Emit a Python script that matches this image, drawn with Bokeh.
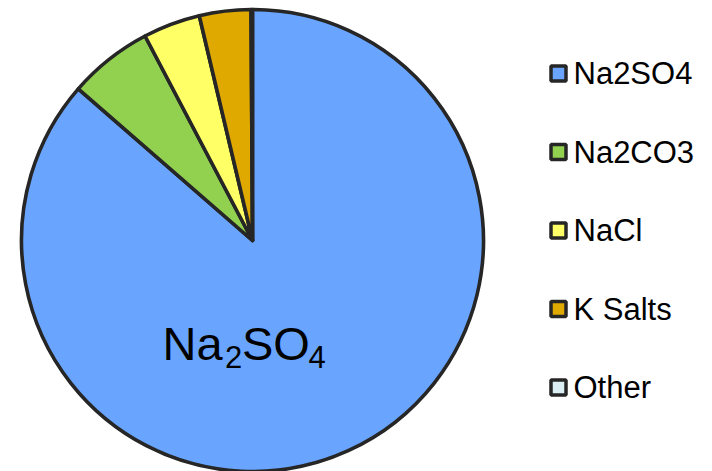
import numpy as np
from bokeh.plotting import figure
from bokeh.models import Range1d, ColumnDataSource
from bokeh.embed import file_html
from bokeh.resources import INLINE
from bokeh.core.properties import value

# ---- data ----
categories = ["Na2SO4", "Na2CO3", "NaCl", "K Salts", "Other"]
shares = [86.4, 5.9, 4.0, 3.6, 0.1]
colors = ["#69A5FF", "#92D050", "#FFFF66", "#DFA900", "#DAEEF3"]

W, H = 712, 471
FONT = "Liberation Sans"
EDGE = "#262626"

p = figure(width=W, height=H, x_range=Range1d(0, W), y_range=Range1d(0, H),
           output_backend="svg", toolbar_location=None, min_border=0)
p.axis.visible = False
p.grid.visible = False
p.outline_line_color = None
p.background_fill_color = "white"
p.border_fill_color = "white"

# pie: starts at 12 o'clock, runs clockwise
vals = np.array(shares, dtype=float)
frac = vals / vals.sum()
cum = np.concatenate([[0.0], np.cumsum(frac)])
start = np.pi / 2 - 2 * np.pi * cum[:-1]
end = np.pi / 2 - 2 * np.pi * cum[1:]
cx, cy, r = 252, H - 240, 231
src = ColumnDataSource(dict(start=start, end=end, color=colors, cat=categories))
p.wedge(x=cx, y=cy, radius=r, start_angle="start", end_angle="end",
        direction="clock", fill_color="color", line_color=EDGE, line_width=3.6,
        line_join="round", source=src)

# legend (drawn by hand)
pitch = 78.5
ly = [H - (73 + i * pitch) for i in range(len(categories))]
lsrc = ColumnDataSource(dict(y=ly, color=colors, cat=categories))
p.rect(x=558, y="y", width=15, height=15, fill_color="color", line_color=EDGE,
       line_width=3.5, source=lsrc)
p.text(x=573, y="y", text="cat", text_font=value(FONT), text_font_size="31px",
       text_baseline="middle", text_align="left", text_color="black", source=lsrc)

# in-slice label Na2SO4 with subscripts
base = H - 343
sub = H - 356
parts = [("Na", 162, base, "47px"), ("2", 224.5, sub, "31px"),
         ("SO", 241.5, base, "47px"), ("4", 308, sub, "31px")]
for t, x, y, fs in parts:
    p.text(x=[x], y=[y], text=[t], text_font=value(FONT), text_font_size=fs,
           text_baseline="alphabetic", text_align="left", text_color="black")

open("out.html", "w").write(file_html(p, INLINE))
